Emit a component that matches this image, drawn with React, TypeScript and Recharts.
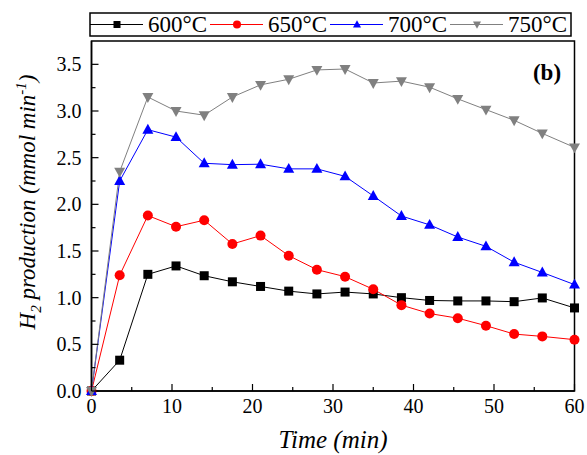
import { LineChart, Line, XAxis, YAxis, ReferenceArea } from 'recharts'

// sampling times (min)
const times = [0, 3.5, 7, 10.5, 14, 17.5, 21, 24.5, 28, 31.5, 35, 38.5, 42, 45.5, 49, 52.5, 56, 60]

// H2 production (mmol min-1)
const h2At600 = [0, 0.33, 1.25, 1.34, 1.235, 1.17, 1.12, 1.07, 1.04, 1.06, 1.04, 1.0, 0.97, 0.965, 0.965, 0.957, 0.997, 0.89]
const h2At650 = [0, 1.24, 1.88, 1.76, 1.83, 1.575, 1.665, 1.45, 1.3, 1.225, 1.09, 0.92, 0.83, 0.78, 0.7, 0.61, 0.585, 0.55]
const h2At700 = [0, 2.25, 2.8, 2.72, 2.44, 2.425, 2.43, 2.38, 2.38, 2.3, 2.09, 1.875, 1.78, 1.65, 1.55, 1.38, 1.27, 1.14]
const h2At750 = [0, 2.35, 3.15, 3.0, 2.955, 3.15, 3.28, 3.34, 3.44, 3.45, 3.3, 3.32, 3.255, 3.13, 3.015, 2.9, 2.76, 2.61]

const seriesNames = ['600°C', '650°C', '700°C', '750°C']
const seriesColors = ['#000000', '#ff0000', '#0000ff', '#808080']
const seriesShapes = ['square', 'circle', 'up', 'down']
const seriesValues = [h2At600, h2At650, h2At700, h2At750]

const xMajorTicks = [0, 10, 20, 30, 40, 50, 60]
const xMinorTicks = [5, 15, 25, 35, 45, 55]
const yMajorTicks = [0, 0.5, 1, 1.5, 2, 2.5, 3, 3.5]
const yMinorTicks = [0.25, 0.75, 1.25, 1.75, 2.25, 2.75, 3.25]

const data = times.map((t, i) => {
  const row: Record<string, number> = { t }
  seriesValues.forEach((vals, s) => { row['s' + s] = vals[i] })
  return row
})

const FONT = 'Liberation Serif, Times New Roman, serif'

const Marker = ({ shape, cx, cy, color, size }: { shape: string; cx: number; cy: number; color: string; size: number }) => {
  if (shape === 'square') {
    return <rect x={cx - size / 2} y={cy - size / 2} width={size} height={size} fill={color} />
  }
  if (shape === 'circle') {
    return <circle cx={cx} cy={cy} r={size / 2} fill={color} />
  }
  const h = size * 0.9
  if (shape === 'up') {
    return <polygon points={`${cx},${cy - h * 0.6} ${cx - size / 2},${cy + h * 0.4} ${cx + size / 2},${cy + h * 0.4}`} fill={color} />
  }
  return <polygon points={`${cx},${cy + h * 0.6} ${cx - size / 2},${cy - h * 0.4} ${cx + size / 2},${cy - h * 0.4}`} fill={color} />
}

const markerSizes: Record<string, number> = { square: 9, circle: 10, up: 11, down: 11 }

const XTick = (props: any) => {
  const { x, y, payload } = props
  const major = xMajorTicks.includes(payload.value)
  return (
    <g>
      <line x1={x} x2={x} y1={y} y2={y - (major ? 7 : 4)} stroke="#000" strokeWidth={1.2} />
      {major && (
        <text x={x} y={y + 22} textAnchor="middle" fontSize={20} fontFamily={FONT} fill="#000">
          {payload.value}
        </text>
      )}
    </g>
  )
}

const YTick = (props: any) => {
  const { x, y, payload } = props
  const major = yMajorTicks.includes(payload.value)
  return (
    <g>
      <line x1={x} x2={x + (major ? 7 : 4)} y1={y} y2={y} stroke="#000" strokeWidth={1.2} />
      {major && (
        <text x={x - 10} y={y + 7} textAnchor="end" fontSize={20} fontFamily={FONT} fill="#000">
          {Number(payload.value).toFixed(1)}
        </text>
      )}
    </g>
  )
}

const App = () => {
  const xTicks = [...xMajorTicks, ...xMinorTicks].sort((a, b) => a - b)
  const yTicks = [...yMajorTicks, ...yMinorTicks].sort((a, b) => a - b)

  return (
    <div style={{ position: 'absolute', left: 0, top: 0, width: 587, height: 455, background: '#fff' }}>
      <LineChart width={587} height={455} data={data} margin={{ top: 41, right: 12.5, bottom: 63, left: 90.5 }}>
        <XAxis
          dataKey="t"
          type="number"
          domain={[0, 60]}
          ticks={xTicks}
          interval={0}
          tick={XTick}
          tickLine={false}
          tickSize={0}
          tickMargin={0}
          height={1}
          axisLine={{ stroke: '#000', strokeWidth: 1.5 }}
        />
        <YAxis
          type="number"
          domain={[0, 3.75]}
          ticks={yTicks}
          interval={0}
          tick={YTick}
          tickLine={false}
          tickSize={0}
          tickMargin={0}
          width={1}
          axisLine={{ stroke: '#000', strokeWidth: 1.5 }}
        />
        <ReferenceArea x1={0} x2={60} y1={0} y2={3.75} fill="none" stroke="#000" strokeWidth={1.5} />
        {seriesNames.map((name, s) => (
          <Line
            key={name}
            dataKey={'s' + s}
            name={name}
            type="linear"
            stroke={seriesColors[s]}
            strokeWidth={1}
            isAnimationActive={false}
            dot={(p: any) => (
              <Marker
                key={`${name}-${p.index}`}
                shape={seriesShapes[s]}
                cx={p.cx}
                cy={p.cy}
                color={seriesColors[s]}
                size={markerSizes[seriesShapes[s]]}
              />
            )}
            activeDot={false}
          />
        ))}
      </LineChart>

      <svg width={587} height={455} style={{ position: 'absolute', left: 0, top: 0, pointerEvents: 'none' }}>
        {/* legend */}
        <rect x={90} y={13} width={481} height={23} fill="#fff" stroke="#000" strokeWidth={1.5} />
        {seriesNames.map((name, s) => {
          const x0 = 90 + s * 120
          return (
            <g key={name}>
              <line x1={x0} x2={x0 + 53} y1={24.5} y2={24.5} stroke={seriesColors[s]} strokeWidth={1} />
              <Marker shape={seriesShapes[s]} cx={x0 + 27} cy={24.5} color={seriesColors[s]} size={seriesShapes[s] === 'square' ? 7 : 8} />
              <text x={x0 + 58} y={32} fontSize={23} fontFamily={FONT} fill="#000">{name}</text>
            </g>
          )
        })}

        <text x={547} y={80} textAnchor="middle" fontSize={23} fontWeight="bold" fontFamily={FONT} fill="#000">(b)</text>

        <text x={333} y={448} textAnchor="middle" fontSize={25} fontStyle="italic" fontFamily={FONT} fill="#000">Time (min)</text>

        <text
          transform="translate(35, 202) rotate(-90)"
          textAnchor="middle"
          fontSize={23}
          fontStyle="italic"
          fontFamily={FONT}
          fill="#000"
        >
          H<tspan fontSize={15} dy={6}>2</tspan>
          <tspan dy={-6}> production (mmol min</tspan>
          <tspan fontSize={15} dy={-9}>-1</tspan>
          <tspan dy={9}>)</tspan>
        </text>
      </svg>
    </div>
  )
}

export default App
